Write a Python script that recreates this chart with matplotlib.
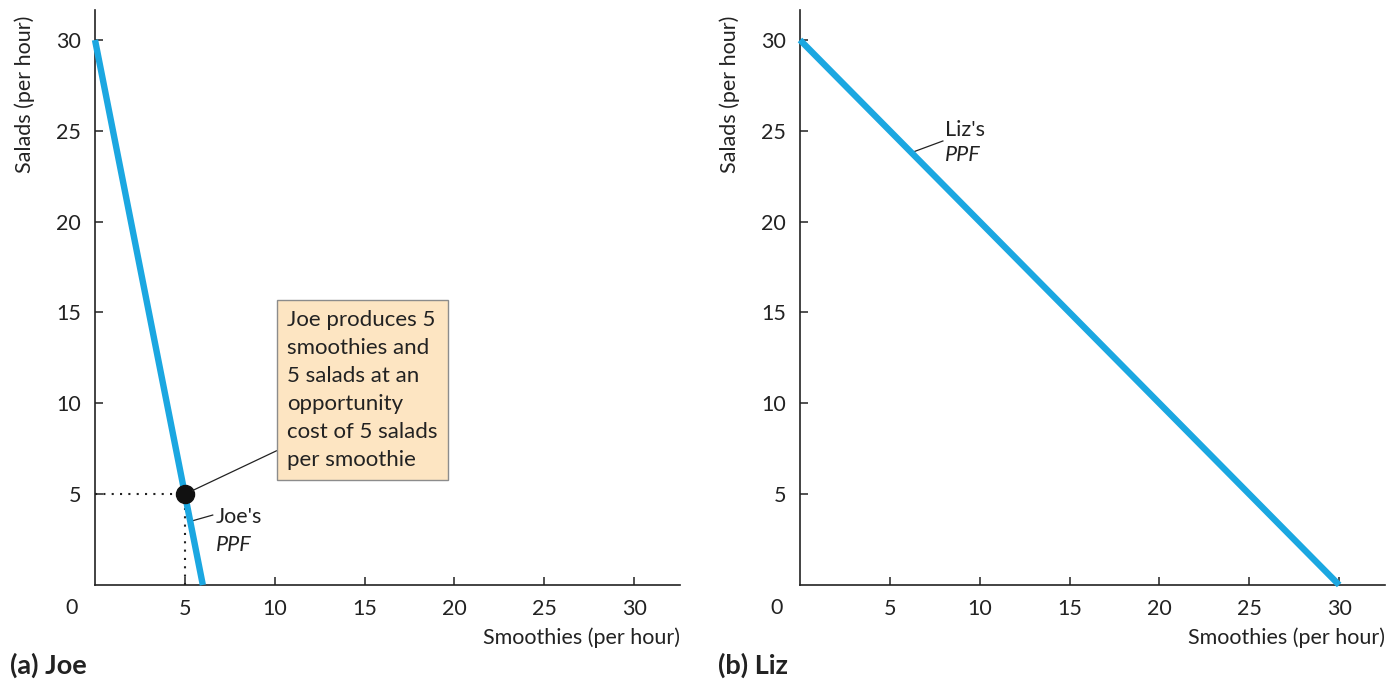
import numpy as np
import matplotlib
matplotlib.use("Agg")
from matplotlib import pyplot as plt

plt.rcParams['font.family'] = ['Lato', 'DejaVu Sans']

# PPF end points (smoothies, salads)
joe_smoothies = [0, 6]
joe_salads = [30, 0]
liz_smoothies = [0, 30]
liz_salads = [30, 0]
joe_point = (5, 5)

ticks = [5, 10, 15, 20, 25, 30]
ppf_color = "#1ba7e1"
txt_color = "#222222"
box_text = "Joe produces 5\nsmoothies and\n5 salads at an\nopportunity\ncost of 5 salads\nper smoothie"

W, H = 1391, 681
fig = plt.figure(figsize=(W / 100, H / 100), dpi=100)
ax1 = fig.add_axes([95 / W, 1 - 585 / H, 585 / W, 575 / H])
ax2 = fig.add_axes([800 / W, 1 - 585 / H, 585 / W, 575 / H])

fs = 15.5


def style_axes(ax):
    ax.set_xlim(0, 32.55)
    ax.set_ylim(0, 31.65)
    for s in ["top", "right"]:
        ax.spines[s].set_visible(False)
    for s in ["left", "bottom"]:
        ax.spines[s].set_linewidth(1.2)
        ax.spines[s].set_color(txt_color)
    ax.set_xticks(ticks)
    ax.set_yticks(ticks)
    ax.tick_params(direction="in", length=6, width=1.1, color=txt_color,
                   labelsize=fs, labelcolor=txt_color, pad=10)
    ax.text(-1.28, -1.27, "0", fontsize=fs, color=txt_color, ha="center", va="center")
    ax.text(1.0, -0.092, "Smoothies (per hour)", transform=ax.transAxes,
            ha="right", va="center", fontsize=fs, color=txt_color)
    ax.text(-0.12, 0.991, "Salads (per hour)", transform=ax.transAxes, rotation=90,
            ha="center", va="top", fontsize=fs, color=txt_color)


style_axes(ax1)
style_axes(ax2)

# (a) Joe
ax1.plot(joe_smoothies, joe_salads, color=ppf_color, lw=4.6, solid_capstyle="butt", zorder=3, clip_on=False)
ax1.plot([0, joe_point[0]], [joe_point[1], joe_point[1]], color=txt_color, lw=1.5, ls=(0, (1, 3)), zorder=2)
ax1.plot([joe_point[0], joe_point[0]], [0, joe_point[1]], color=txt_color, lw=1.5, ls=(0, (1, 3)), zorder=2)
ax1.plot(*joe_point, marker="o", ms=13, color="#111111", zorder=5)
ax1.annotate(box_text, xy=joe_point, xytext=(10.69, 15.15), ha="left", va="top",
             fontsize=16, color=txt_color, linespacing=1.5,
             bbox=dict(boxstyle="square,pad=0.45", fc="#fde5c2", ec="#8c8c8c", lw=1),
             arrowprops=dict(arrowstyle="-", color=txt_color, lw=0.9, relpos=(0, 0.15),
                             shrinkA=0, shrinkB=6), zorder=6)
ax1.plot([5.3, 6.55], [3.5, 3.85], color=txt_color, lw=0.9, zorder=2)
ax1.text(6.73, 3.74, "Joe's", fontsize=fs, color=txt_color, ha="left", va="center")
ax1.text(6.73, 2.2, "PPF", fontsize=fs, style="italic", color=txt_color, ha="left", va="center")

# (b) Liz
ax2.plot(liz_smoothies, liz_salads, color=ppf_color, lw=4.6, solid_capstyle="butt", zorder=3, clip_on=False)
ax2.plot([6.2, 7.95], [23.8, 24.44], color=txt_color, lw=0.9, zorder=2)
ax2.text(8.09, 25.04, "Liz's", fontsize=fs, color=txt_color, ha="left", va="center")
ax2.text(8.09, 23.67, "PPF", fontsize=fs, style="italic", color=txt_color, ha="left", va="center")

fig.text(10 / W, 1 - 665 / H, "(a) Joe", fontsize=19.5, fontweight="bold", color=txt_color, ha="left", va="center")
fig.text(718 / W, 1 - 665 / H, "(b) Liz", fontsize=19.5, fontweight="bold", color=txt_color, ha="left", va="center")

plt.savefig("out.png", dpi=100)
